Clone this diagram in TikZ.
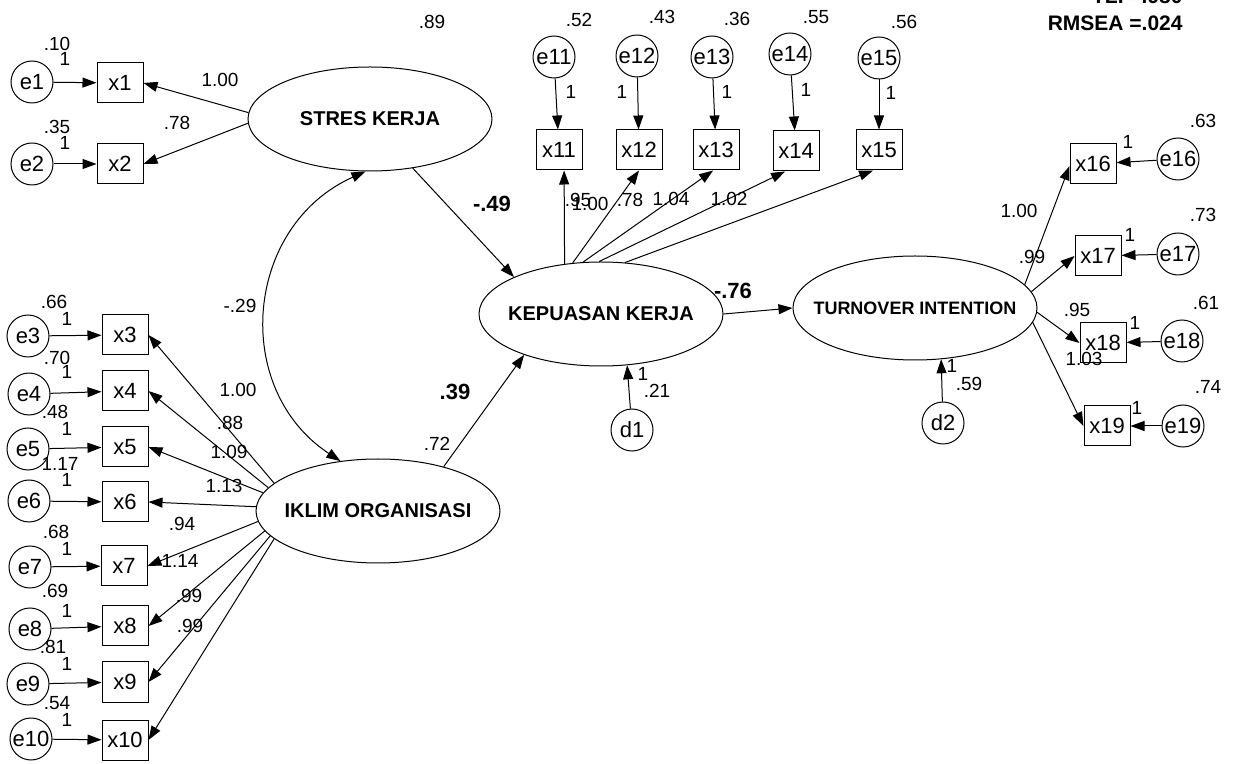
\documentclass[tikz,border=0pt]{standalone}
\usepackage{fontspec}
\setmainfont{Liberation Sans}
\usetikzlibrary{arrows.meta,shapes.geometric}

\begin{document}
\begin{tikzpicture}[x=0.5pt,y=-0.5pt,
  ind/.style={draw,rectangle,line width=0.5pt,minimum width=23pt,minimum height=20pt,inner sep=0,font=\fontsize{11}{13}\selectfont},
  err/.style={draw,circle,line width=0.5pt,minimum size=21pt,inner sep=0,font=\fontsize{11}{13}\selectfont},
  lat/.style={draw,ellipse,line width=0.5pt,minimum width=122pt,minimum height=52pt,inner sep=0,font=\fontsize{10}{12}\selectfont\bfseries},
  num/.style={inner sep=0,font=\fontsize{9.5}{11}\selectfont},
  coef/.style={inner sep=0,font=\fontsize{11}{13}\selectfont\bfseries},
  fitidx/.style={inner sep=0,anchor=east,font=\fontsize{10.5}{12}\selectfont\bfseries},
  arr/.style={line width=0.5pt,-{Triangle[length=7pt,width=5pt]}},
  biarr/.style={line width=0.5pt,{Triangle[length=7pt,width=5pt]}-{Triangle[length=7pt,width=5pt]}}]
  \useasboundingbox (0,0) rectangle (1238,764);

  % fit indices
  \node[fitidx] (tli) at (1183,-4) {TLI =.980};
  \node[fitidx] (rmsea) at (1183,23) {RMSEA =.024};

  % latent variables
  \node[lat] (stres) at (370,119) {\makebox[0pt]{STRES KERJA}};
  \node[lat] (kep) at (601,314) {\makebox[0pt]{KEPUASAN KERJA}};
  \node[lat] (iklim) at (378,511) {\makebox[0pt]{IKLIM ORGANISASI}};
  \node[lat,font=\fontsize{9}{11}\selectfont\bfseries] (turn) at (915,308) {\makebox[0pt]{TURNOVER INTENTION}};
  \node[err] (d1) at (632,430) {d1};
  \node[err] (d2) at (943,423) {d2};

  % stres kerja indicators
  \node[ind] (x1) at (120,83) {x1};
  \node[ind] (x2) at (120,164) {x2};
  \node[err] (e1) at (32,82) {e1};
  \node[err] (e2) at (32,164) {e2};

  % kepuasan kerja indicators
  \node[ind] (x11) at (559,150) {x11};
  \node[ind] (x12) at (639,150) {x12};
  \node[ind] (x13) at (716,150) {x13};
  \node[ind] (x14) at (796,151) {x14};
  \node[ind] (x15) at (879,150) {x15};
  \node[err] (e11) at (554,57) {e11};
  \node[err] (e12) at (637,56) {e12};
  \node[err] (e13) at (712,57) {e13};
  \node[err] (e14) at (790,54) {e14};
  \node[err] (e15) at (879,58) {e15};

  % iklim organisasi indicators
  \node[ind] (x3) at (125,335) {x3};
  \node[ind] (x4) at (125,391) {x4};
  \node[ind] (x5) at (125,447) {x5};
  \node[ind] (x6) at (125,502) {x6};
  \node[ind] (x7) at (124,566) {x7};
  \node[ind] (x8) at (125,626) {x8};
  \node[ind] (x9) at (125,682) {x9};
  \node[ind] (x10) at (125,740) {x10};
  \node[err] (e3) at (28,336) {e3};
  \node[err] (e4) at (29,394) {e4};
  \node[err] (e5) at (28,449) {e5};
  \node[err] (e6) at (29,501) {e6};
  \node[err] (e7) at (30,567) {e7};
  \node[err] (e8) at (30,629) {e8};
  \node[err] (e9) at (28,684) {e9};
  \node[err] (e10) at (31,739) {e10};

  % turnover intention indicators
  \node[ind] (x16) at (1093,164) {x16};
  \node[ind] (x17) at (1098,256) {x17};
  \node[ind] (x18) at (1103,343) {x18};
  \node[ind] (x19) at (1107,426) {x19};
  \node[err] (e16) at (1178,159) {e16};
  \node[err] (e17) at (1178,254) {e17};
  \node[err] (e18) at (1182,341) {e18};
  \node[err] (e19) at (1183,426) {e19};

  % structural paths
  \draw[arr] (stres.311) -- (kep.157);
  \draw[arr] (iklim.34) -- (kep.208);
  \draw[arr] (kep.east) -- (turn.west);
  \draw[arr] (d1) -- (kep.297);
  \draw[arr] (d2) -- (turn.297);
  \draw[biarr] (stres.265) .. controls (244,226) and (231,389) .. (iklim.127);

  % loadings
  \draw[arr] (stres.177) -- (x1.east);
  \draw[arr] (stres.182) -- (x2.east);
  \draw[arr] (kep.126) -- (x11.284);
  \draw[arr] (kep.119) -- (x12.south);
  \draw[arr] (kep.109) -- (x13.262);
  \draw[arr] (kep.92) -- (x14.242);
  \draw[arr] (kep.65) -- (x15.254);
  \draw[arr] (iklim.165) -- (x3.east);
  \draw[arr] (iklim.168) -- (x4.east);
  \draw[arr] (iklim.171) -- (x5.east);
  \draw[arr] (iklim.178) -- (x6.east);
  \draw[arr] (iklim.185) -- (x7.east);
  \draw[arr] (iklim.190) -- (x8.east);
  \draw[arr] (iklim.193) -- (x9.east);
  \draw[arr] (iklim.195) -- (x10.east);
  \draw[arr] (turn.12) -- (x16.185);
  \draw[arr] (turn.8) -- (x17.west);
  \draw[arr] (turn.358) -- (x18.west);
  \draw[arr] (turn.353) -- (x19.west);

  % errors
  \draw[arr] (e1) -- (x1);
  \draw[arr] (e2) -- (x2);
  \draw[arr] (e3) -- (x3);
  \draw[arr] (e4) -- (x4);
  \draw[arr] (e5) -- (x5);
  \draw[arr] (e6) -- (x6);
  \draw[arr] (e7) -- (x7);
  \draw[arr] (e8) -- (x8);
  \draw[arr] (e9) -- (x9);
  \draw[arr] (e10) -- (x10);
  \draw[arr] (e11) -- (x11);
  \draw[arr] (e12) -- (x12);
  \draw[arr] (e13) -- (x13);
  \draw[arr] (e14) -- (x14);
  \draw[arr] (e15) -- (x15);
  \draw[arr] (e16) -- (x16);
  \draw[arr] (e17) -- (x17);
  \draw[arr] (e18) -- (x18);
  \draw[arr] (e19) -- (x19);

  % estimates
  \node[coef] (c1) at (492,204) {-.49};
  \node[coef] (c2) at (455,392) {.39};
  \node[coef] (c3) at (733,291) {-.76};
  \node[num] (cov) at (240,306) {-.29};
  \node[num] (vstres) at (432,22) {.89};
  \node[num] (viklim) at (437,444) {.72};
  \node[num] (fd1) at (643,374) {1};
  \node[num] (vd1) at (657,391) {.21};
  \node[num] (fd2) at (952,366) {1};
  \node[num] (vd2) at (969,384) {.59};

  \node[num] (v1) at (57,44) {.10};
  \node[num] (f1) at (65,59) {1};
  \node[num] (v2) at (57,127) {.35};
  \node[num] (f2) at (65,143) {1};
  \node[num] (l1) at (220,80) {1.00};
  \node[num] (l2) at (177,123) {.78};

  \node[num] (v11) at (579,20) {.52};
  \node[num] (v12) at (662,17) {.43};
  \node[num] (v13) at (737,19) {.36};
  \node[num] (v14) at (816,17) {.55};
  \node[num] (v15) at (904,22) {.56};
  \node[num] (f11) at (571,92) {1};
  \node[num] (f12) at (622,92) {1};
  \node[num] (f13) at (727,92) {1};
  \node[num] (f14) at (806,90) {1};
  \node[num] (f15) at (891,93) {1};
  \node[num] (l11) at (578,200) {.95};
  \node[num] (l12) at (590,204) {1.00};
  \node[num] (l13) at (630,200) {.78};
  \node[num] (l14) at (671,199) {1.04};
  \node[num] (l15) at (729,199) {1.02};

  \node[num] (v3) at (54,302) {.66};
  \node[num] (f3) at (67,319) {1};
  \node[num] (v4) at (57,358) {.70};
  \node[num] (f4) at (67,372) {1};
  \node[num] (v5) at (55,412) {.48};
  \node[num] (f5) at (67,429) {1};
  \node[num] (v6) at (60,464) {1.17};
  \node[num] (f6) at (67,480) {1};
  \node[num] (v7) at (56,532) {.68};
  \node[num] (f7) at (67,549) {1};
  \node[num] (v8) at (55,591) {.69};
  \node[num] (f8) at (67,611) {1};
  \node[num] (v9) at (53,647) {.81};
  \node[num] (f9) at (67,664) {1};
  \node[num] (v10) at (57,703) {.54};
  \node[num] (f10) at (67,720) {1};
  \node[num] (l3) at (238,390) {1.00};
  \node[num] (l4) at (230,423) {.88};
  \node[num] (l5) at (229,452) {1.09};
  \node[num] (l6) at (224,486) {1.13};
  \node[num] (l7) at (182,524) {.94};
  \node[num] (l8) at (180,561) {1.14};
  \node[num] (l9) at (189,596) {.99};
  \node[num] (l10) at (190,626) {.99};

  \node[num] (v16) at (1203,121) {.63};
  \node[num] (f16) at (1128,142) {1};
  \node[num] (v17) at (1203,215) {.73};
  \node[num] (f17) at (1130,235) {1};
  \node[num] (v18) at (1206,303) {.61};
  \node[num] (f18) at (1135,323) {1};
  \node[num] (v19) at (1208,387) {.74};
  \node[num] (f19) at (1137,408) {1};
  \node[num] (l16) at (1019,211) {1.00};
  \node[num] (l17) at (1032,257) {.99};
  \node[num] (l18) at (1077,310) {.95};
  \node[num] (l19) at (1084,359) {1.03};
\end{tikzpicture}
\end{document}
